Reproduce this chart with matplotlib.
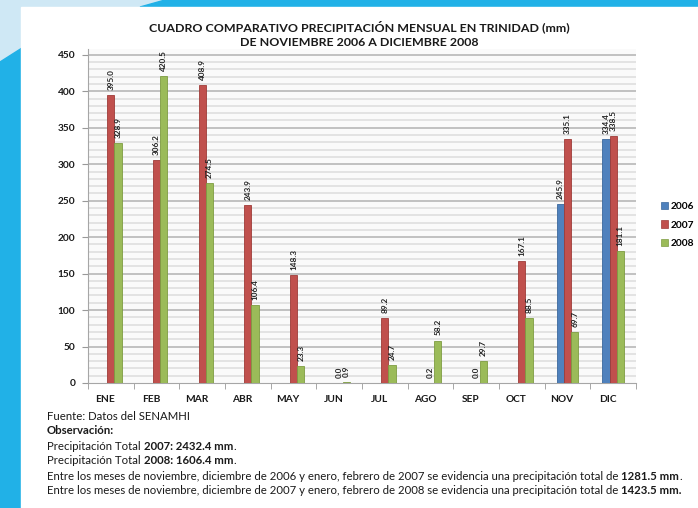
import numpy as np
import matplotlib
matplotlib.use('Agg')
import matplotlib.pyplot as plt
from matplotlib.patches import Patch, Polygon, Rectangle

plt.rcParams['font.family'] = ['Lato', 'DejaVu Sans']

# datos
meses = ['ENE', 'FEB', 'MAR', 'ABR', 'MAY', 'JUN', 'JUL', 'AGO', 'SEP', 'OCT', 'NOV', 'DIC']
p2006 = [None, None, None, None, None, None, None, None, None, None, 245.9, 334.4]
p2007 = [395.0, 306.2, 408.9, 243.9, 148.3, 0.0, 89.2, 0.2, 0.0, 167.1, 335.1, 338.5]
p2008 = [328.9, 420.5, 274.5, 106.4, 23.3, 0.9, 24.7, 58.2, 29.7, 88.5, 69.7, 181.1]
anios = ['2006', '2007', '2008']
colores = ['#4f81bd', '#c0504d', '#9bbb59']
bordes = ['#3a679c', '#9e3b38', '#7e9c42']

W, H = 698, 508
fig = plt.figure(figsize=(W / 100, H / 100), dpi=100)

# fondo decorativo
bg = fig.add_axes([0, 0, 1, 1])
bg.set_xlim(0, W)
bg.set_ylim(H, 0)
bg.axis('off')
bg.add_patch(Rectangle((0, 0), W, H, color='#cfe8f5'))
bg.add_patch(Polygon([[140, 7], [165, 0], [W, 0], [W, 7]], color='#21b1e7'))
bg.add_patch(Polygon([[0, 62], [22, 48], [22, H], [0, H]], color='#21b1e7'))
bg.add_patch(Rectangle((21, 7), W - 21, H - 7, color='white'))

# titulo
fig.text(359 / W, 1 - 27 / H, 'CUADRO COMPARATIVO PRECIPITACIÓN MENSUAL EN TRINIDAD (mm)',
         ha='center', va='center', fontsize=8.9, fontweight='bold', color='#1a1a1a')
fig.text(359 / W, 1 - 43 / H, 'DE NOVIEMBRE 2006 A DICIEMBRE 2008',
         ha='center', va='center', fontsize=8.9, fontweight='bold', color='#1a1a1a')

ax = fig.add_axes([88 / W, 1 - 383 / H, (636 - 88) / W, (383 - 49) / H])
ax.set_xlim(-0.385, 11.33)
ax.set_ylim(0, 458)
ax.set_facecolor('#fafafa')

# pared con rayas
for yv in range(10, 460, 10):
    ax.axhline(yv, color='#bdbdbd' if yv % 50 == 0 else '#dcdcdc',
               lw=1.3 if yv % 50 == 0 else 1.1, zorder=0)

x = np.arange(len(meses))
bw = 0.16
series = [p2006, p2007, p2008]
for k, serie in enumerate(series):
    for i, v in enumerate(serie):
        if v is None:
            continue
        xi = x[i] + (k - 1) * bw
        ax.bar(xi, v, bw, color=colores[k], edgecolor=bordes[k], lw=0.6, zorder=3)
        ax.text(xi, v + 7, f'{v:.1f}', rotation=90, ha='center', va='bottom',
                fontsize=5.9, fontweight='bold', color='#222222', zorder=4)

ax.set_yticks(range(0, 451, 50))
ax.set_xticks(x - 0.12)
ax.set_xticklabels(meses)
ax.set_xticks(np.arange(-0.5, 12, 1), minor=True)
ax.tick_params(axis='x', which='major', length=0, pad=9)
ax.tick_params(axis='x', which='minor', length=4, color='#999999')
ax.tick_params(axis='y', length=4, color='#999999', pad=5)
for lab in ax.get_xticklabels() + ax.get_yticklabels():
    lab.set_fontweight('bold')
    lab.set_fontsize(7.3)
    lab.set_color('#1a1a1a')
for s in ['top', 'right']:
    ax.spines[s].set_visible(False)
ax.spines['left'].set_color('#a6a6a6')
ax.spines['bottom'].set_color('#a6a6a6')

handles = [Patch(facecolor=colores[k], edgecolor=bordes[k], lw=0.5) for k in range(3)]
fig.legend(handles, anios, loc='center left', bbox_to_anchor=(661 / W, 1 - 225 / H),
           frameon=False, borderpad=0, borderaxespad=0, handlelength=0.7,
           handleheight=0.7, handletextpad=0.25, labelspacing=0.95,
           prop={'weight': 'bold', 'size': 7.3})

# pie de pagina con partes en negrita
lineas = [
    [('Fuente: Datos del SENAMHI', 'normal')],
    [('Observación:', 'bold')],
    [('Precipitación Total ', 'normal'), ('2007: 2432.4 mm', 'bold'), ('.', 'normal')],
    [('Precipitación Total ', 'normal'), ('2008: 1606.4 mm', 'bold'), ('.', 'normal')],
    [('Entre los meses de noviembre, diciembre de 2006 y enero, febrero de 2007 se evidencia una precipitación total de ', 'normal'),
     ('1281.5 mm', 'bold'), ('.', 'normal')],
    [('Entre los meses de noviembre, diciembre de 2007 y enero, febrero de 2008 se evidencia una precipitación total de ', 'normal'),
     ('1423.5 mm.', 'bold')],
]
ys = [416, 430, 446, 461, 477, 491]
r = fig.canvas.get_renderer()
for partes, yp in zip(lineas, ys):
    xp = 47
    for txt, peso in partes:
        t = fig.text(xp / W, 1 - yp / H, txt, ha='left', va='center',
                     fontsize=8.2, fontweight=peso, color='#1a1a1a')
        xp += t.get_window_extent(renderer=r).width

fig.savefig('out.png', dpi=100)
